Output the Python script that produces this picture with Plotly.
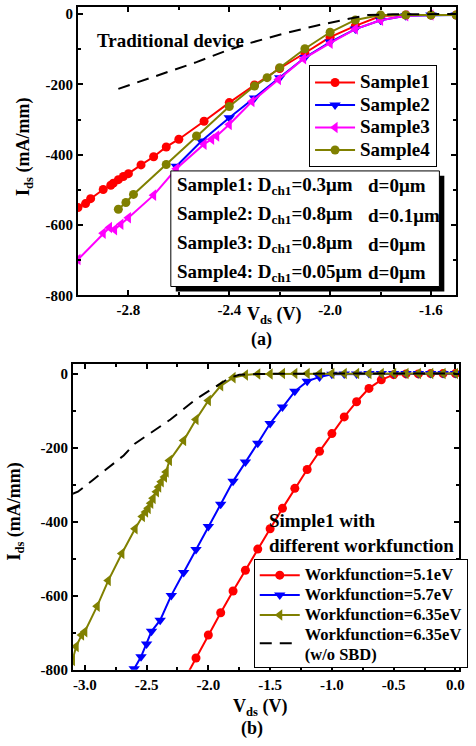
import plotly.graph_objects as go

# ---------------- panel (a): channel geometry ----------------
s1_v = [-3.00, -2.97, -2.95, -2.90, -2.87, -2.86, -2.84, -2.82, -2.80, -2.75, -2.70,
        -2.65, -2.60, -2.50, -2.40, -2.30, -2.20, -2.10, -2.00, -1.90, -1.80, -1.70,
        -1.60, -1.50]
s1_i = [-550, -539, -525, -499, -487, -481, -471, -462, -454, -429, -406,
        -378, -356, -305, -252, -202, -155, -111, -66, -34, -6, -3,
        -3, -3]

s2_v = [-2.61, -2.51, -2.40, -2.30, -2.20, -2.10, -2.00, -1.90, -1.80, -1.70, -1.60, -1.50]
s2_i = [-433, -361, -295, -239, -181, -124, -80, -43, -18, -5, -3, -3]

s3_v = [-3.00, -2.90, -2.875, -2.855, -2.83, -2.80, -2.70, -2.61, -2.50, -2.47, -2.45,
        -2.40, -2.31, -2.205, -2.105, -2.00, -1.90, -1.80, -1.70, -1.60, -1.50]
s3_i = [-698, -623, -607, -613, -598, -579, -515, -440, -370, -356, -347,
        -314, -249, -186, -127, -83, -43, -18, -5, -3, -3]

s4_v = [-2.84, -2.81, -2.78, -2.65, -2.53, -2.40, -2.30, -2.25, -2.20, -2.10, -2.00,
        -1.90, -1.80, -1.70, -1.60, -1.50]
s4_i = [-555, -536, -513, -428, -347, -263, -205, -181, -153, -99, -52,
        -17, -3, -3, -3, -3]

trad_v = [-2.84, -2.53, -2.41, -2.32, -2.19, -2.06, -1.935, -1.85, -1.75, -1.60, -1.50]
trad_i = [-213, -137, -104, -83, -57, -34, -15, -3, -1, 0, 0]

a_names = ["Sample1", "Sample2", "Sample3", "Sample4"]
a_desc_left = ["Sample1: D<sub>ch1</sub>=0.3μm", "Sample2: D<sub>ch1</sub>=0.8μm",
               "Sample3: D<sub>ch1</sub>=0.8μm", "Sample4: D<sub>ch1</sub>=0.05μm"]
a_desc_right = ["d=0μm", "d=0.1μm", "d=0μm", "d=0μm"]
a_xticks = [-2.8, -2.4, -2.0, -1.6]
a_xticktext = ["-2.8", "-2.4", "-2.0", "-1.6"]

# ---------------- panel (b): workfunction ----------------
w51_v = [0.0, -0.1, -0.2, -0.3, -0.4, -0.5, -0.6, -0.7, -0.8, -0.9, -1.0, -1.1, -1.2,
         -1.3, -1.4, -1.5, -1.6, -1.7, -1.8, -1.9, -2.0, -2.1, -2.2]
w51_i = [0, 0, 0, -1, -1, -3, -17, -40, -76, -117, -162, -210, -259,
         -310, -364, -419, -474, -531, -587, -646, -706, -768, -830]

w57_v = [0.0, -0.1, -0.2, -0.3, -0.4, -0.5, -0.6, -0.7, -0.8, -0.9, -1.0, -1.1, -1.2,
         -1.3, -1.4, -1.5, -1.6, -1.7, -1.8, -1.9, -2.0, -2.1, -2.2, -2.3, -2.39,
         -2.46, -2.50, -2.545, -2.60]
w57_i = [0, 0, 0, 0, 0, 0, 0, 0, -1, -1, -2, -9, -21,
         -48, -90, -135, -188, -239, -291, -353, -413, -475, -537, -599, -666,
         -696, -730, -765, -797]

w635_v = [0.0, -0.1, -0.2, -0.3, -0.4, -0.5, -0.6, -0.7, -0.8, -0.9, -1.0, -1.1, -1.2,
          -1.3, -1.4, -1.5, -1.6, -1.7, -1.8, -1.9, -2.0, -2.1, -2.2, -2.315, -2.341,
          -2.355, -2.381, -2.402, -2.42, -2.447, -2.466, -2.487, -2.508, -2.534, -2.593,
          -2.70, -2.81, -2.90, -3.00, -3.026, -3.07, -3.10]
w635_i = [0, 0, 0, 0, 0, 0, 0, 0, 0, 0, 0, 0, 0,
          0, 0, -1, -1, -4, -11, -33, -73, -124, -181, -235, -266,
          -279, -292, -306, -319, -337, -350, -364, -374, -386, -419,
          -486, -559, -628, -697, -706, -737, -775]

nosbd_v = [-3.10, -3.056, -2.937, -2.804, -2.685, -2.598, -2.50, -2.307, -2.095,
           -1.83, -1.75, -1.60, -1.00, 0.0]
nosbd_i = [-325, -319, -288, -252, -221, -190, -168, -124, -68,
           -12, -3, -1, 0, 0]

b_names = ["Workfunction=5.1eV", "Workfunction=5.7eV", "Workfunction=6.35eV",
           "Workfunction=6.35eV"]
b_note = "(w/o SBD)"
b_xticks = [-3.0, -2.5, -2.0, -1.5, -1.0, -0.5, 0.0]
b_xticktext = ["-3.0", "-2.5", "-2.0", "-1.5", "-1.0", "-0.5", "0.0"]

y_ticks = [0, -200, -400, -600, -800]
y_ticktext = ["0", "-200", "-400", "-600", "-800"]

# ---------------- styling ----------------
W, H = 476, 746
FONT = "Liberation Serif"
RED, BLUE, MAGENTA, OLIVE = "#FF0000", "#0000FF", "#FF00FF", "#808000"


def fx(p):
    return p / W


def fy(p):
    return 1 - p / H


def big(label, size):
    # legend rows keep compact spacing while the label itself is drawn larger
    return f'<span style="font-size:{size}px">{label}</span>'


fig = go.Figure()

a_series = [(s1_v, s1_i, RED, "circle", 9),
            (s2_v, s2_i, BLUE, "triangle-down", 10),
            (s3_v, s3_i, MAGENTA, "triangle-left", 10),
            (s4_v, s4_i, OLIVE, "circle", 9)]
for name, (v, i, c, sym, ms) in zip(a_names, a_series):
    fig.add_trace(go.Scatter(x=v, y=i, mode="lines+markers", name=big(name, 19),
                             line=dict(color=c, width=2),
                             marker=dict(color=c, symbol=sym, size=ms),
                             xaxis="x", yaxis="y", legend="legend"))

fig.add_trace(go.Scatter(x=trad_v, y=trad_i, mode="lines", showlegend=False,
                         line=dict(color="black", width=2, dash="12px,8px"),
                         xaxis="x", yaxis="y"))

b_series = [(w51_v, w51_i, RED, "circle", 9),
            (w57_v, w57_i, BLUE, "triangle-down", 10),
            (w635_v, w635_i, OLIVE, "triangle-left", 10)]
for name, (v, i, c, sym, ms) in zip(b_names[:3], b_series):
    fig.add_trace(go.Scatter(x=v, y=i, mode="lines+markers", name=big(name, 16.5),
                             line=dict(color=c, width=2),
                             marker=dict(color=c, symbol=sym, size=ms),
                             xaxis="x2", yaxis="y2", legend="legend2"))

# second legend line nudged down a little so the two large lines do not collide
nosbd_label = big(b_names[3], 16.5) + "<br><sub>" + big(b_note, 16.5) + "</sub>"
fig.add_trace(go.Scatter(x=nosbd_v, y=nosbd_i, mode="lines", name=nosbd_label,
                         line=dict(color="black", width=2, dash="12px,8px"),
                         xaxis="x2", yaxis="y2", legend="legend2"))

axis_common = dict(showline=True, linewidth=2, linecolor="black", mirror="allticks",
                   ticks="inside", ticklen=5, tickwidth=2, tickcolor="black",
                   showgrid=False, zeroline=False,
                   tickfont=dict(family=FONT, size=15, color="black", weight="bold"))

fig.update_layout(
    width=W, height=H,
    margin=dict(l=0, r=0, t=0, b=0),
    paper_bgcolor="white", plot_bgcolor="white",
    font=dict(family=FONT, size=15, color="black", weight="bold"),
    xaxis=dict(domain=[fx(79), fx(462)], anchor="y", range=[-3.0, -1.5],
               tickvals=a_xticks, ticktext=a_xticktext,
               minor=dict(tickvals=[-2.6, -2.2, -1.8], ticks="inside", ticklen=3,
                          tickwidth=2, tickcolor="black"),
               **axis_common),
    yaxis=dict(domain=[fy(298), fy(6)], anchor="x", range=[-800, 20],
               tickvals=y_ticks, ticktext=y_ticktext,
               minor=dict(tickvals=[-100, -300, -500, -700], ticks="inside", ticklen=3,
                          tickwidth=2, tickcolor="black"),
               **axis_common),
    xaxis2=dict(domain=[fx(74), fx(465)], anchor="y2", range=[-3.095, 0.03],
                tickvals=b_xticks, ticktext=b_xticktext,
                minor=dict(tickvals=[-2.75, -2.25, -1.75, -1.25, -0.75, -0.25],
                           ticks="inside", ticklen=3, tickwidth=2, tickcolor="black"),
                **axis_common),
    yaxis2=dict(domain=[fy(677), fy(367)], anchor="x2", range=[-800, 27],
                tickvals=y_ticks, ticktext=y_ticktext,
                minor=dict(tickvals=[-100, -300, -500, -700], ticks="inside", ticklen=3,
                           tickwidth=2, tickcolor="black"),
                **axis_common),
    legend=dict(x=fx(313), y=fy(65), xanchor="left", yanchor="top",
                bgcolor="white", bordercolor="black", borderwidth=1,
                font=dict(family=FONT, size=15, color="black", weight="bold"),
                itemwidth=40, tracegroupgap=0),
    legend2=dict(x=fx(257), y=fy(565), xanchor="left", yanchor="top",
                 bgcolor="white", bordercolor="black", borderwidth=1,
                 font=dict(family=FONT, size=13, color="black", weight="bold"),
                 itemwidth=40, tracegroupgap=0),
)

# Parameter box in panel (a): drop shadow, then white framed box
fig.add_shape(type="rect", xref="paper", yref="paper",
              x0=fx(178), x1=fx(450), y0=fy(294), y1=fy(177),
              fillcolor="black", line=dict(width=0), layer="above")
fig.add_shape(type="rect", xref="paper", yref="paper",
              x0=fx(173), x1=fx(445), y0=fy(289), y1=fy(172),
              fillcolor="white", line=dict(color="black", width=1), layer="above")

# Shadow behind the panel (b) legend
fig.add_shape(type="rect", xref="paper", yref="paper",
              x0=fx(260), x1=fx(463), y0=fy(670), y1=fy(568),
              fillcolor="black", line=dict(width=0), layer="above")

ann = []
row_y = [187, 217, 246, 275]
for left, right, yy in zip(a_desc_left, a_desc_right, row_y):
    ann.append(dict(text=left, x=fx(177), y=fy(yy), xanchor="left", yanchor="middle",
                    font=dict(size=19)))
    ann.append(dict(text=right, x=fx(371), y=fy(yy), xanchor="left", yanchor="middle",
                    font=dict(size=19)))

ann.append(dict(text="Traditional device", x=fx(173), y=fy(40), xanchor="center",
                yanchor="middle", font=dict(size=19)))
ann.append(dict(text="Simple1 with<br>different workfunction", x=fx(270), y=fy(539),
                xanchor="left", yanchor="middle", align="left", font=dict(size=19)))

ann.append(dict(text="V<sub>ds</sub> (V)", x=fx(277), y=fy(318), xanchor="center",
                yanchor="middle", font=dict(size=18)))
ann.append(dict(text="(a)", x=fx(265), y=fy(343), xanchor="center",
                yanchor="middle", font=dict(size=18)))
ann.append(dict(text="V<sub>ds</sub> (V)", x=fx(263), y=fy(715), xanchor="center",
                yanchor="middle", font=dict(size=18)))
ann.append(dict(text="(b)", x=fx(255), y=fy(736), xanchor="center",
                yanchor="middle", font=dict(size=18)))

ann.append(dict(text="I<sub>ds</sub> (mA/mm)", x=fx(25), y=fy(148), textangle=-90,
                xanchor="center", yanchor="middle", font=dict(size=18)))
ann.append(dict(text="I<sub>ds</sub> (mA/mm)", x=fx(16), y=fy(517), textangle=-90,
                xanchor="center", yanchor="middle", font=dict(size=18)))

for a in ann:
    a.update(xref="paper", yref="paper", showarrow=False)
    a["font"] = dict(family=FONT, color="black", weight="bold", **a["font"])
fig.update_layout(annotations=ann)

fig.write_html("out.html")
